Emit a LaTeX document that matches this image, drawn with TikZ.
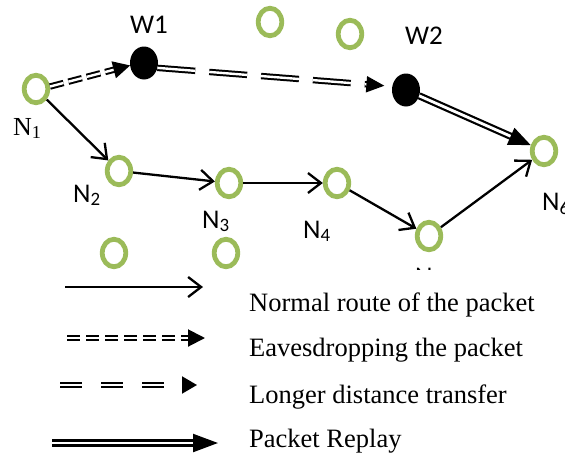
\documentclass[tikz,border=0pt]{standalone}
\usepackage{fontspec}
\setmainfont{Liberation Serif}
\newfontfamily\labelfont{Carlito}
\usetikzlibrary{arrows.meta,shapes.geometric}
\definecolor{nodegreen}{HTML}{9BBB59}

\begin{document}
\begin{tikzpicture}[x=1pt,y=-1pt,
  sensor/.style={ellipse, draw=nodegreen, line width=4.8pt,
    minimum width=23.5pt, minimum height=27.5pt, inner sep=0pt},
  witness/.style={ellipse, fill=black, minimum width=28pt,
    minimum height=33pt, inner sep=0pt, outer sep=0pt},
  sanslabel/.style={anchor=base west, inner sep=0pt,
    font=\labelfont\fontsize{27}{30}\selectfont},
  seriflabel/.style={anchor=base west, inner sep=0pt,
    font=\fontsize{26}{30}\selectfont},
  legendtext/.style={anchor=base west, inner sep=0pt,
    font=\fontsize{26.5}{30}\selectfont},
  normalroute/.style={line width=2.3pt,
    -{Straight Barb[length=13pt,width=20pt,line width=2.3pt]}},
  eavesdrop/.style={double, line width=2pt, double distance=2.4pt,
    dash pattern=on 14pt off 5pt,
    -{Triangle[length=17pt,width=17pt]}},
  longhop/.style={double, line width=2pt, double distance=2.4pt,
    dash pattern=on 38pt off 14pt,
    -{Triangle[length=18pt,width=16pt]}},
  replay/.style={double, line width=2.2pt, double distance=2.8pt,
    -{Triangle[length=22pt,width=18pt]}},
]
\useasboundingbox (0,0) rectangle (565,459);

% sensor nodes
\node[sensor] (N1) at (36,89) {};
\node[sensor] (N2) at (119,171) {};
\node[sensor] (N3) at (229,183) {};
\node[sensor] (N4) at (337,183) {};
\node[sensor] (N5) at (429,236) {};
\node[sensor] (N6) at (544,151) {};
\node[sensor] (G1) at (270,22) {};
\node[sensor] (G2) at (350,34) {};
\node[sensor] (G3) at (114,253) {};
\node[sensor] (G4) at (226,253) {};

% wormhole nodes
\node[witness] (W1) at (144,63) {};
\node[witness] (W2) at (406,90) {};

% labels
\node[sanslabel] (lW1) at (130,33) {W1};
\node[sanslabel] (lW2) at (405,44) {W2};
\node[seriflabel] (lN1) at (13,135) {N\textsubscript{1}};
\node[sanslabel] (lN2) at (73,202) {N\textsubscript{2}};
\node[sanslabel] (lN3) at (202,228) {N\textsubscript{3}};
\node[sanslabel] (lN4) at (303,238) {N\textsubscript{4}};
\node[sanslabel] (lN5) at (415,285) {N\textsubscript{5}};
\node[sanslabel] (lN6) at (542,210) {N\textsubscript{6}};

% normal route
\draw[normalroute] (N1) -- (N2);
\draw[normalroute] (N2) -- (N3);
\draw[normalroute] (N3) -- (N4);
\draw[normalroute] (N4) -- (N5);
\draw[normalroute] (N5) -- (N6);

% wormhole path
\draw[eavesdrop] (N1.10) -- (W1.190);
\draw[longhop, shorten >=8pt] (W1.-20) -- (W2.165);
\draw[replay] (W2) -- (N6);

% legend panel
\fill[white] (0,270) rectangle (565,459);

\coordinate (a1) at (65,287);  \coordinate (b1) at (203,287);
\coordinate (a2) at (67,338);  \coordinate (b2) at (205,338);
\coordinate (a3) at (60,385);  \coordinate (b3) at (197,385);
\coordinate (a4) at (52,443);  \coordinate (b4) at (218,443);

\draw[normalroute] (a1) -- (b1);
\draw[eavesdrop, dash pattern=on 13pt off 6pt] (a2) -- (b2);
\draw[longhop, dash pattern=on 22pt off 19pt,
  -{Triangle[length=15pt,width=17pt]}] (a3) -- (b3);
\draw[replay, -{Triangle[length=25pt,width=18pt]}] (a4) -- (b4);

\node[legendtext] (t1) at (249,311) {Normal route of the packet};
\node[legendtext] (t2) at (249,356) {Eavesdropping the packet};
\node[legendtext] (t3) at (249,403) {Longer distance transfer};
\node[legendtext] (t4) at (249,447) {Packet Replay};
\end{tikzpicture}
\end{document}
